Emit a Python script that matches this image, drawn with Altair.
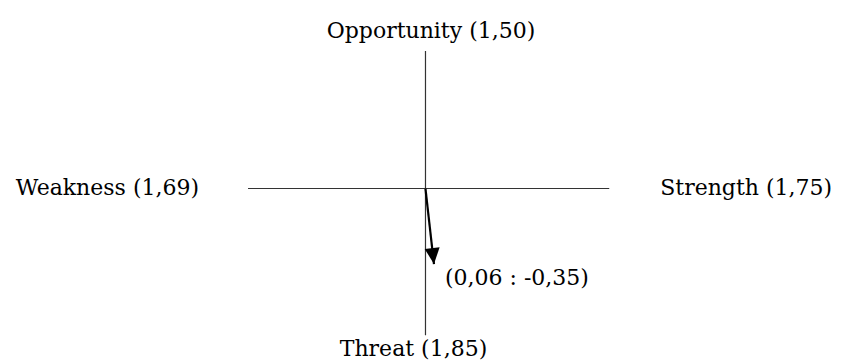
import altair as alt
import pandas as pd

# SWOT scores
labels = ["Opportunity (1,50)", "Weakness (1,69)", "Strength (1,75)", "Threat (1,85)"]
strength = 1.75
weakness = 1.69
opportunity = 1.50
threat_axis_end = 1.60  # drawn length of lower axis
result_x = 0.06
result_y = -0.35
result_label = "(0,06 : -0,35)"

FONT = "DejaVu Serif"
FS = 22

W, H = 825, 352

xs = alt.Scale(domain=[-3.976, 3.881])
ys = alt.Scale(domain=[-1.870, 1.968])
ax_x = alt.X("x:Q", scale=xs, axis=None)
ax_y = alt.Y("y:Q", scale=ys, axis=None)

hline = pd.DataFrame({"x": [-weakness], "x2": [strength], "y": [0.0]})
vline = pd.DataFrame({"x": [0.0], "y": [opportunity], "y2": [-threat_axis_end]})

h = alt.Chart(hline).mark_rule(color="#333333", strokeWidth=1.2).encode(
    x=ax_x, x2="x2:Q", y=ax_y)
v = alt.Chart(vline).mark_rule(color="#333333", strokeWidth=1.2).encode(
    x=ax_x, y=ax_y, y2="y2:Q")

def label(df, **kw):
    return alt.Chart(df).mark_text(font=FONT, fontSize=FS, color="black",
                                   baseline="alphabetic", **kw).encode(
        x=ax_x, y=ax_y, text="t:N")

t_opp = label(pd.DataFrame({"x": [0.0], "y": [opportunity], "t": [labels[0]]}),
              align="center", dx=5.5, dy=-13)
t_weak = label(pd.DataFrame({"x": [-weakness], "y": [0.0], "t": [labels[1]]}),
               align="right", dx=-49, dy=6.5)
t_str = label(pd.DataFrame({"x": [strength], "y": [0.0], "t": [labels[2]]}),
              align="left", dx=51, dy=6.5)
t_thr = label(pd.DataFrame({"x": [0.0], "y": [-threat_axis_end], "t": [labels[3]]}),
              align="center", dx=-12, dy=21)

main = alt.layer(h, v, t_opp, t_weak, t_str, t_thr)

# resultant arrow, own scales
axs = alt.Scale(domain=[-2.946, 2.876])
ays = alt.Scale(domain=[-0.795, 0.8368])
ar = pd.DataFrame({"x": [0.0], "y": [0.0], "x2": [result_x], "y2": [result_y]})
tip = pd.DataFrame({"x": [result_x], "y": [result_y], "t": [result_label]})

a_line = alt.Chart(ar).mark_rule(color="black", strokeWidth=2.2).encode(
    x=alt.X("x:Q", scale=axs, axis=None), x2="x2:Q",
    y=alt.Y("y:Q", scale=ays, axis=None), y2="y2:Q")
a_head = alt.Chart(tip).mark_point(
    shape="M-0.47,-1 L0.47,-1 L0,0 Z", size=1024, filled=True, opacity=1,
    color="black", angle=353.6).encode(
    x=alt.X("x:Q", scale=axs, axis=None), y=alt.Y("y:Q", scale=ays, axis=None))
a_text = alt.Chart(tip).mark_text(font=FONT, fontSize=FS, color="black",
                                  baseline="alphabetic", align="left",
                                  dx=11, dy=21).encode(
    x=alt.X("x:Q", scale=axs, axis=None), y=alt.Y("y:Q", scale=ays, axis=None),
    text="t:N")
arrow = alt.layer(a_line, a_head, a_text)

chart = alt.layer(main, arrow).resolve_scale(x="independent", y="independent").properties(
    width=W, height=H, padding=0, autosize=alt.AutoSizeParams(type="none"),
).configure_view(stroke=None)

chart.save("out.html", embed_options={"renderer": "svg", "actions": False})
